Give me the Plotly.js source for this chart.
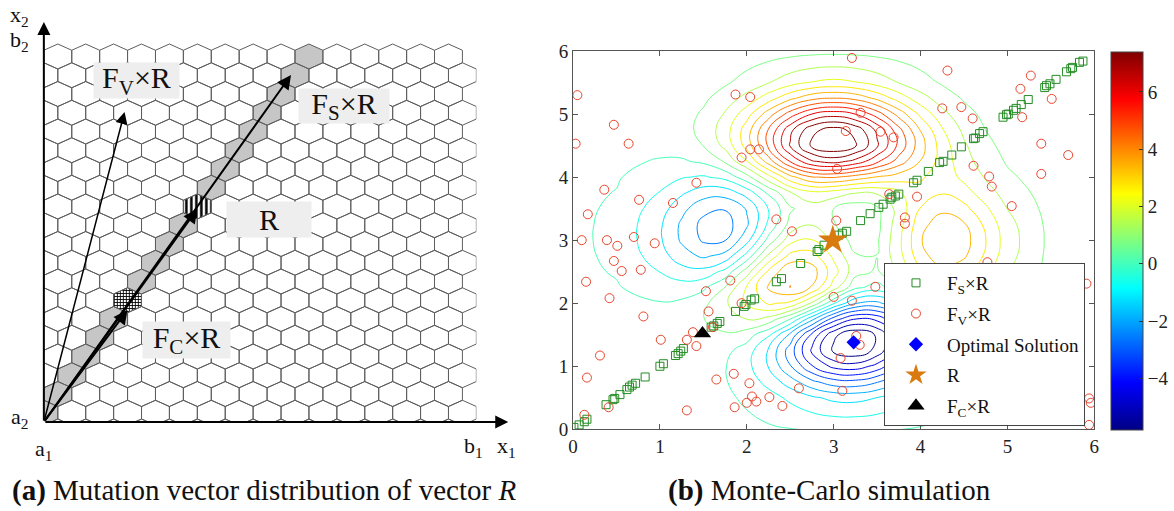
<!DOCTYPE html>
<html><head><meta charset="utf-8">
<script src="https://cdn.plot.ly/plotly-3.0.1.min.js"></script>
<style>html,body{margin:0;padding:0;background:#fff}#chart{width:1174px;height:511px}</style>
</head><body><div id="chart"></div>
<script>
// ---------------- Panel (b) data ----------------
const gridX = [0,0.5,1,1.25,1.5,1.75,2,2.25,2.5,2.75,3,3.25,3.5,3.75,4,4.25,4.5,4.75,5,5.5,6];
const gridY = [0,0.5,0.75,1,1.25,1.5,1.75,2,2.25,2.5,2.75,3,3.25,3.5,3.75,4,4.25,4.5,4.75,5,5.25,5.5,6];
const contourZ = [
 [0,0,0,0.01,0,-0.01,-0.03,-0.08,-0.14,-0.20,-0.25,-0.25,-0.22,-0.17,-0.11,-0.06,-0.03,-0.01,0,0,0],
 [0,0,0.02,0.02,0,-0.07,-0.24,-0.53,-0.92,-1.31,-1.57,-1.61,-1.41,-1.06,-0.69,-0.38,-0.18,-0.08,-0.03,0,0],
 [0,0.01,0.03,0.04,0.01,-0.12,-0.44,-0.99,-1.74,-2.51,-3.02,-3.10,-2.72,-2.05,-1.32,-0.73,-0.35,-0.14,-0.05,0,0],
 [0,0.01,0.05,0.07,0.05,-0.13,-0.59,-1.45,-2.64,-3.89,-4.76,-4.93,-4.35,-3.27,-2.10,-1.15,-0.53,-0.20,-0.06,0,0],
 [0,0.01,0.07,0.13,0.15,0.02,-0.46,-1.48,-3.00,-4.70,-5.97,-6.33,-5.64,-4.24,-2.69,-1.42,-0.61,-0.20,-0.04,0.01,0],
 [0,0.01,0.08,0.19,0.33,0.39,0.15,-0.68,-2.19,-4.08,-5.68,-6.33,-5.76,-4.32,-2.64,-1.27,-0.44,-0.07,0.04,0.03,0],
 [0,-0.01,0.03,0.17,0.45,0.84,1.11,0.88,-0.14,-1.85,-3.61,-4.60,-4.40,-3.22,-1.74,-0.56,0.08,0.27,0.23,0.06,0.01],
 [-0.01,-0.06,-0.13,-0.04,0.30,0.98,1.86,2.45,2.23,1.00,-0.72,-2.02,-2.22,-1.43,-0.27,0.58,0.88,0.77,0.50,0.11,0.01],
 [-0.02,-0.12,-0.42,-0.51,-0.28,0.49,1.78,3.09,3.63,2.94,1.40,-0.01,-0.41,0.20,1.18,1.79,1.78,1.35,0.82,0.18,0.02],
 [-0.03,-0.20,-0.80,-1.16,-1.21,-0.60,0.80,2.49,3.55,3.30,2.00,0.70,0.39,1.14,2.20,2.76,2.56,1.88,1.12,0.24,0.03],
 [-0.03,-0.27,-1.14,-1.78,-2.16,-1.84,-0.57,1.23,2.56,2.63,1.59,0.53,0.48,1.50,2.76,3.37,3.09,2.25,1.34,0.28,0.03],
 [-0.04,-0.30,-1.33,-2.14,-2.77,-2.71,-1.65,0.06,1.48,1.75,0.98,0.19,0.38,1.57,2.94,3.58,3.27,2.37,1.41,0.30,0.03],
 [-0.04,-0.29,-1.32,-2.16,-2.87,-2.98,-2.15,-0.65,0.68,1.06,0.52,-0.03,0.28,1.47,2.76,3.36,3.06,2.22,1.32,0.28,0.03],
 [-0.03,-0.25,-1.12,-1.85,-2.49,-2.64,-2.00,-0.76,0.39,0.80,0.46,0.09,0.38,1.34,2.38,2.83,2.56,1.84,1.09,0.23,0.03],
 [-0.02,-0.18,-0.82,-1.33,-1.76,-1.78,-1.16,-0.05,1.04,1.55,1.42,1.12,1.17,1.65,2.17,2.32,1.99,1.40,0.82,0.17,0.02],
 [-0.01,-0.11,-0.48,-0.74,-0.86,-0.60,0.23,1.51,2.79,3.59,3.69,3.34,2.94,2.66,2.43,2.09,1.58,1.04,0.58,0.12,0.01],
 [-0.01,-0.06,-0.20,-0.23,-0.05,0.55,1.70,3.29,4.92,6.07,6.39,5.94,5.02,3.97,2.97,2.09,1.35,0.79,0.41,0.07,0.01],
 [0,-0.02,-0.01,0.11,0.48,1.27,2.61,4.38,6.20,7.54,8.00,7.48,6.25,4.72,3.25,2.05,1.19,0.62,0.29,0.05,0],
 [0,0,0.07,0.24,0.65,1.43,2.67,4.29,5.96,7.22,7.67,7.19,5.99,4.45,2.96,1.78,0.96,0.47,0.21,0.03,0],
 [0,0.01,0.08,0.23,0.55,1.16,2.10,3.31,4.56,5.51,5.86,5.50,4.57,3.37,2.21,1.29,0.68,0.32,0.13,0.02,0],
 [0,0.01,0.06,0.16,0.36,0.74,1.32,2.07,2.84,3.43,3.65,3.43,2.84,2.09,1.36,0.79,0.41,0.19,0.08,0.01,0],
 [0,0,0.03,0.08,0.19,0.39,0.69,1.07,1.47,1.77,1.89,1.77,1.47,1.08,0.70,0.40,0.21,0.09,0.04,0,0],
 [0,0,0.01,0.01,0.03,0.06,0.11,0.17,0.23,0.28,0.30,0.28,0.23,0.17,0.11,0.06,0.03,0.01,0.01,0,0]
];
const fsX = [0.01,0.07,0.13,0.16,0.38,0.46,0.48,0.54,0.62,0.65,0.68,0.72,0.83,1.00,1.04,1.18,1.21,1.24,1.27,1.59,1.62,1.66,1.69,1.87,1.97,1.99,2.05,2.09,2.34,2.40,2.62,2.81,2.83,2.89,3.06,3.10,3.15,3.31,3.42,3.52,3.57,3.65,3.67,3.71,3.75,3.92,3.96,4.09,4.22,4.26,4.36,4.47,4.61,4.63,4.68,4.72,4.95,4.99,5.01,5.07,5.10,5.16,5.24,5.43,5.45,5.49,5.56,5.68,5.73,5.75,5.83,5.87];
const fsY = [0.03,0.07,0.12,0.16,0.39,0.47,0.49,0.55,0.63,0.67,0.70,0.73,0.83,1.00,1.04,1.17,1.20,1.24,1.28,1.62,1.64,1.68,1.71,1.87,1.95,1.98,2.05,2.07,2.34,2.39,2.63,2.82,2.85,2.92,3.08,3.11,3.14,3.31,3.42,3.52,3.57,3.65,3.68,3.70,3.73,3.91,3.95,4.09,4.23,4.25,4.35,4.48,4.61,4.62,4.69,4.72,4.95,4.99,5.00,5.06,5.09,5.15,5.23,5.42,5.45,5.48,5.55,5.67,5.72,5.74,5.82,5.84];
const fvX = [0.05,0.47,0.03,0.64,0.36,0.17,0.76,1.15,1.42,0.10,0.39,0.51,0.70,0.94,1.87,2.04,1.94,2.04,2.14,2.34,2.52,3.03,3.04,3.14,3.21,3.31,
 0.47,0.56,0.15,0.42,0.78,0.81,0.31,0.16,0.13,0.41,1.01,1.31,1.38,1.42,1.53,1.56,1.61,1.31,1.65,1.81,1.94,1.85,1.86,2.00,2.03,2.06,2.11,2.26,2.41,2.60,3.00,3.21,3.08,3.10,3.26,3.30,
 4.31,5.27,5.15,5.51,4.25,4.47,4.60,5.17,3.54,3.69,5.39,5.70,4.61,4.79,4.82,5.39,3.64,3.96,5.05,3.82,3.82,4.77,3.48,5.91,5.94,5.96,5.94];
const fvY = [5.30,4.83,4.53,4.53,3.80,3.41,3.64,3.59,3.91,3.00,3.00,2.91,3.05,2.95,5.31,5.27,4.31,4.44,4.44,3.33,3.14,3.31,4.13,4.73,5.89,5.02,
 2.67,2.51,2.34,2.08,2.53,1.79,1.17,0.82,0.23,0.35,1.42,1.42,1.54,1.32,2.19,1.87,1.62,0.30,0.79,2.36,2.00,0.88,0.35,0.42,0.73,0.52,0.44,0.51,0.37,0.65,2.10,2.04,1.13,0.61,1.48,1.34,
 5.69,5.61,5.40,5.24,5.09,5.11,4.93,4.95,4.72,4.63,4.53,4.35,4.18,4.01,3.85,4.05,3.73,3.69,3.54,3.36,3.26,2.65,2.26,2.31,0.49,0.42,0.07];
const optX = [3.23], optY = [1.38];
const rX = [2.99], rY = [3.00];
const fcX = [1.49], fcY = [1.52];
const axisTicks = [0,1,2,3,4,5,6];
const cbTicks = [-4,-2,0,2,4,6];
const cbTickText = ['\u22124','\u22122','0','2','4','6'];
const seriesNames = ['F<sub>S</sub>\u00d7R','F<sub>V</sub>\u00d7R','Optimal Solution','R','F<sub>C</sub>\u00d7R'];

// ---------------- Panel (a) diagram data ----------------
const hexRowCount = 21;                       // rows of pointy-top hexagons, counted from the top
const grayRows = [19,18,17,16,15,14,13,12,11,10,9,8,7,6,5,4,3,2,1,0];
const grayCols = [0,0,1,1,2,2,3,3,4,4,5,5,6,6,7,7,8,8,9,9];
const hatchRCell = [8,5];                     // [row, col] of the R cell
const hatchCCell = [13,3];                    // [row, col] of the F_C x R cell
const vecTipX = [81,84,154,248];              // F_V, F_C, R, F_S tips (diagram units)
const vecTipY = [310,112,213,347];
const axisTipX = 466, axisTipY = 400;

// hexagon geometry (diagram units = pixels)
const hexW = 28, hexH = 25, rowStep = 18.75, gridW = 434, gridH = 378;
function hexCenter(n,i){ const cy = gridH - hexH/2 - n*rowStep; const cx = (n%2===0) ? hexW/2 + i*hexW : i*hexW; return [cx,cy]; }
function hexPath(n,i){ const [cx,cy]=hexCenter(n,i); const a=hexW/2, b=hexH/2, q=hexH/4;
  return [[cx,cy+b],[cx+a,cy+q],[cx+a,cy-q],[cx,cy-b],[cx-a,cy-q],[cx-a,cy+q],[cx,cy+b]]; }
function cellsToXY(rows, cols){ const X=[],Y=[]; for(let j=0;j<rows.length;j++){ hexPath(rows[j],cols[j]).forEach(v=>{X.push(v[0]);Y.push(v[1]);}); X.push(null);Y.push(null);} return [X,Y]; }
const allR=[], allC=[];
for(let n=0;n<hexRowCount;n++){ const cnt = (n%2===0) ? 15 : 16; for(let i=0;i<cnt;i++){ allR.push(n); allC.push(i); } }
const [hexX,hexY] = cellsToXY(allR,allC);
const [grayX,grayY] = cellsToXY(grayRows,grayCols);
const [hRX,hRY] = cellsToXY([hatchRCell[0]],[hatchRCell[1]]);
const [hCX,hCY] = cellsToXY([hatchCCell[0]],[hatchCCell[1]]);

const jet = [[0,'rgb(0,0,132)'],[0.125,'rgb(0,0,255)'],[0.375,'rgb(0,255,255)'],[0.625,'rgb(255,255,0)'],[0.875,'rgb(255,0,0)'],[1,'rgb(128,0,0)']];
const serif = "'Liberation Serif','Times New Roman',serif";

const traces = [
 {type:'scatter', x:grayX, y:grayY, xaxis:'x2', yaxis:'y2', mode:'lines', fill:'toself', fillcolor:'#c6c6c6', line:{width:0}, hoverinfo:'skip', showlegend:false},
 {type:'scatter', x:hRX, y:hRY, xaxis:'x2', yaxis:'y2', mode:'lines', fill:'toself', fillcolor:'#fff', fillpattern:{shape:'|', fgcolor:'#000', bgcolor:'#fff', size:5, solidity:0.5}, line:{width:0}, hoverinfo:'skip', showlegend:false},
 {type:'scatter', x:hCX, y:hCY, xaxis:'x2', yaxis:'y2', mode:'lines', fill:'toself', fillcolor:'#fff', fillpattern:{shape:'+', fgcolor:'#000', bgcolor:'#fff', size:3, solidity:0.5}, line:{width:0}, hoverinfo:'skip', showlegend:false},
 {type:'scatter', x:hexX, y:hexY, xaxis:'x2', yaxis:'y2', mode:'lines', line:{color:'#5e5e5e', width:1}, hoverinfo:'skip', showlegend:false},
 {type:'scatter', x:[], y:[], xaxis:'x3', yaxis:'y3', mode:'markers', showlegend:false, hoverinfo:'skip'},
 {type:'heatmap', x:gridX, y:gridY, z:contourZ, zmin:-5.8, zmax:7.4, colorscale:jet, opacity:0, hoverinfo:'skip', showscale:true,
  colorbar:{x:1115/1174, xanchor:'left', xpad:0, ypad:0, y:(511-240.85)/511, yanchor:'middle', len:378.3/511, lenmode:'fraction', thickness:32, thicknessmode:'pixels',
   outlinewidth:1, outlinecolor:'#444', tickvals:cbTicks, ticktext:cbTickText, ticks:'inside', ticklen:4, tickcolor:'#333', tickfont:{family:serif, size:19, color:'#222'}}},
 {type:'contour', x:gridX, y:gridY, z:contourZ, zmin:-5.8, zmax:7.4, colorscale:jet, autocontour:false, showscale:false, hoverinfo:'skip',
  contours:{start:-5.83, end:7.41, size:0.63, coloring:'lines'}, line:{width:1, smoothing:1.3}},
 {type:'scatter', x:fsX, y:fsY, mode:'markers', name:seriesNames[0], legendgroup:'a', marker:{symbol:'square-open', size:8, color:'rgb(35,140,35)', line:{width:1}}},
 {type:'scatter', x:fvX, y:fvY, mode:'markers', name:seriesNames[1], legendgroup:'b', marker:{symbol:'circle-open', size:9, color:'rgb(232,70,45)', line:{width:1}}},
 {type:'scatter', x:optX, y:optY, mode:'markers', name:seriesNames[2], legendgroup:'c', marker:{symbol:'diamond', size:11, color:'#0000ff'}},
 {type:'scatter', x:rX, y:rY, mode:'markers', name:seriesNames[3], legendgroup:'d', marker:{symbol:'star', size:22, color:'rgb(217,122,15)'}},
 {type:'scatter', x:fcX, y:fcY, mode:'markers', name:seriesNames[4], legendgroup:'e', marker:{symbol:'triangle-up', size:15, color:'#000'}}
];

function arrow(x,y,w,size){ return {xref:'x3', yref:'y3', axref:'x3', ayref:'y3', x:x, y:y, ax:0, ay:0, text:'', showarrow:true, arrowhead:2, arrowsize:size, arrowwidth:w, arrowcolor:'#000'}; }
function label(x,y,t,fs,box,w,h){ const a={xref:'x3', yref:'y3', x:x, y:y, text:t, showarrow:false, font:{family:serif, size:fs, color:'#111'}};
  if(box){ a.bgcolor='#eeeeee'; a.borderpad=0; } if(w){a.width=w;} if(h){a.height=h;} return a; }

const annotations = [
 arrow(axisTipX,0,2,1.3), arrow(0,axisTipY,2,1.3),
 arrow(vecTipX[0],vecTipY[0],1.5,1.6), arrow(vecTipX[1],vecTipY[1],2,1.4), arrow(vecTipX[2],vecTipY[2],2,1.4), arrow(vecTipX[3],vecTipY[3],2,1.4),
 label(93,342,'F<sub>V</sub>\u00d7R',30,true,85,35),
 label(301,316,'F<sub>S</sub>\u00d7R',30,true,90,34),
 label(226,203,'R',30,true,84,35),
 label(143,82,'F<sub>C</sub>\u00d7R',30,true,87,36),
 label(-24,406,'x<sub>2</sub>',22), label(-24,381,'b<sub>2</sub>',22), label(-24,4,'a<sub>2</sub>',22),
 label(0,-28,'a<sub>1</sub>',22), label(431,-25,'b<sub>1</sub>',22), label(464,-25,'x<sub>1</sub>',22),
 {xref:'paper', yref:'paper', x:10/1174, xanchor:'left', y:(511-490)/511, yanchor:'middle', text:'<b>(a)</b> Mutation vector distribution of vector <i>R</i>', showarrow:false, font:{family:serif, size:29, color:'#111'}},
 {xref:'paper', yref:'paper', x:668/1174, xanchor:'left', y:(511-490)/511, yanchor:'middle', text:'<b>(b)</b> Monte-Carlo simulation', showarrow:false, font:{family:serif, size:29, color:'#111'}}
];

const axStyle = {showline:true, mirror:'ticks', ticks:'inside', ticklen:5, linecolor:'#555', linewidth:1, tickcolor:'#555', showgrid:false, zeroline:false, fixedrange:true,
  tickvals:axisTicks, tickfont:{family:serif, size:19, color:'#222'}};

const layout = {
 width:1174, height:511, margin:{l:0,r:0,t:0,b:0}, paper_bgcolor:'#fff', plot_bgcolor:'rgba(0,0,0,0)',
 font:{family:serif},
 xaxis: Object.assign({domain:[575/1174,1098/1174], range:[0,6], anchor:'y'}, axStyle),
 yaxis: Object.assign({domain:[(511-429.3)/511,(511-51)/511], range:[0,6], anchor:'x'}, axStyle),
 xaxis2:{domain:[44/1174,478/1174], range:[0,gridW], visible:false, fixedrange:true, anchor:'y2'},
 yaxis2:{domain:[(511-422)/511,(511-43)/511], range:[0,gridH+1], visible:false, fixedrange:true, anchor:'x2'},
 xaxis3:{domain:[0,0.48], range:[-44,0.48*1174-44], visible:false, fixedrange:true, anchor:'y3'},
 yaxis3:{domain:[0,1], range:[-89,422], visible:false, fixedrange:true, anchor:'x3'},
 showlegend:true,
 legend:{x:887/1174, y:(511-263)/511, xanchor:'left', yanchor:'top', bgcolor:'#fff', bordercolor:'#444', borderwidth:1,
   font:{family:serif, size:19, color:'#111'}, itemsizing:'trace', itemwidth:52, traceorder:'grouped', tracegroupgap:3},
 annotations: annotations
};

Plotly.newPlot('chart', traces, layout, {displayModeBar:false, staticPlot:true});
</script></body></html>
